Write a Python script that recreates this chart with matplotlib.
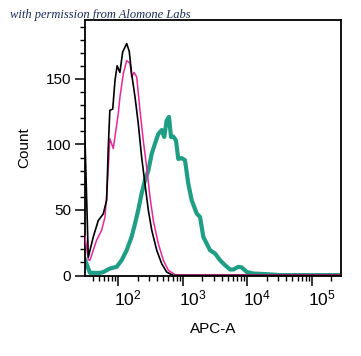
import numpy as np
import matplotlib
matplotlib.use("Agg")
import matplotlib.pyplot as plt
from matplotlib.ticker import FixedLocator, LogLocator, NullFormatter
from matplotlib.transforms import ScaledTranslation

plt.rcParams['font.family'] = ['Liberation Sans', 'DejaVu Sans']
plt.rcParams['mathtext.default'] = 'regular'

# control (black)
ctrl_x = [30.5, 34.3, 41, 49, 58.5, 66, 70, 74, 82, 89, 96, 106, 117, 135, 148,
          161, 182, 204, 230, 259, 292, 330, 394, 471, 563, 713, 1000, 2.8e5]
ctrl_y = [103, 14, 29.5, 42, 47, 57.5, 98, 126, 127, 149, 160, 155, 170.6, 177, 171,
          154, 136, 116, 90.5, 70, 50, 34.6, 19.3, 9, 2.6, 0, 0, 0]

# second control (magenta)
iso_x = [30.5, 34.3, 36.4, 46.2, 55.3, 62.3, 67.5, 74, 83.6, 92, 100, 106, 119.6, 135,
         152, 161, 175, 193, 217, 244, 275, 310, 349, 417, 499, 596, 757, 1000, 2.8e5]
iso_y = [30, 12, 11.7, 27, 34.6, 44.7, 67.6, 104.5, 97, 111, 123.6, 136, 154, 164,
         162, 151.5, 155, 151.5, 126, 103, 83, 60, 42, 24.4, 11.7, 4, 0.6, 0.5, 0.5]

# stained sample (teal)
apc_x = [30.5, 36.4, 52, 58.5, 74, 94.4, 113, 135, 161, 182, 204, 230, 259, 292, 330,
         371, 417, 471, 516, 563, 611, 656, 713, 785, 851, 961, 1082, 1217, 1373, 1643,
         1849, 2080, 2640, 3158, 3775, 4512, 5393, 6070, 7250, 8180, 9790, 12400, 20000,
         32100, 2.8e5]
apc_y = [12, 2, 2, 2.6, 5.3, 6.6, 11.7, 19.3, 29.5, 39.7, 50, 62.6, 72.7, 80, 93,
         100.7, 108, 111, 105.7, 118.5, 121, 105.7, 106, 103, 89, 89.6, 88, 70, 57.5, 47.3,
         44.7, 29.5, 19.3, 16.8, 11.7, 7.9, 4.6, 4.6, 6.6, 6.2, 2.7, 1.5, 1,
         0.3, 0.3]

y_major = [0, 50, 100, 150]
x_major = [1e2, 1e3, 1e4, 1e5]
x_labels = ['$10^{2}$', '$10^{3}$', '$10^{4}$', '$10^{5}$']

fig = plt.figure(figsize=(3.61, 3.56), dpi=100)
ax = fig.add_axes([85 / 361, 1 - 275.5 / 356, 255.7 / 361, 255.5 / 356])

ax.plot(apc_x, apc_y, color='#1f9e86', lw=3.0, solid_joinstyle='round', zorder=2)
ax.plot(iso_x, iso_y, color='#e8279b', lw=1.1, zorder=3)
ax.plot(ctrl_x, ctrl_y, color='black', lw=1.2, zorder=4)

ax.set_xscale('log')
ax.set_xlim(30.5, 2.8e5)
ax.set_ylim(0, 195)

for s in ax.spines.values():
    s.set_linewidth(1.3)

ax.yaxis.set_major_locator(FixedLocator(y_major))
ax.yaxis.set_minor_locator(FixedLocator(np.arange(0, 195, 10)))
ax.set_xticks(x_major)
ax.set_xticklabels(x_labels)
ax.xaxis.set_minor_locator(LogLocator(base=10, subs=np.arange(2, 10)))
ax.xaxis.set_minor_formatter(NullFormatter())

ax.tick_params(axis='both', which='major', direction='out', length=7, width=1.1,
               labelsize=11, colors='black')
ax.tick_params(axis='x', which='major', labelsize=12.5, pad=2)
ax.tick_params(axis='y', which='major', pad=3)
ax.tick_params(axis='both', which='minor', direction='out', length=3.5, width=1.0)

offset = ScaledTranslation(-4 / 100, 0, fig.dpi_scale_trans)
for lbl in ax.get_xticklabels():
    lbl.set_horizontalalignment('left')
    lbl.set_transform(lbl.get_transform() + offset)

ax.set_ylabel('Count', fontsize=11, labelpad=10)
ax.set_xlabel('APC-A', fontsize=11, labelpad=10)

fig.text(10 / 361, 1 - 18 / 356, 'with permission from Alomone Labs',
         family=['Liberation Serif', 'DejaVu Serif'], style='italic',
         fontsize=9, color='#1b2a5e', va='baseline', ha='left')

fig.savefig('out.png', dpi=100)
